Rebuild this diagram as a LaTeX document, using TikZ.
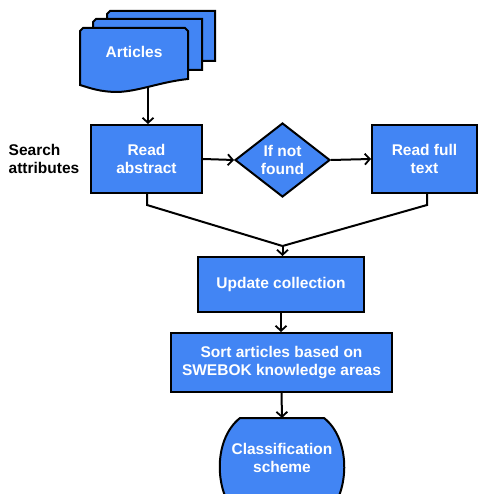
\documentclass[tikz,border=0pt]{standalone}
\usepackage{fontspec}
\setmainfont{Liberation Sans}
\usetikzlibrary{shapes.geometric,arrows.meta}
\definecolor{fblue}{HTML}{4285F4}
\tikzset{
  every node/.style={font=\fontsize{15.5pt}{18pt}\selectfont\bfseries},
  outline/.style={draw=black,line width=2pt,fill=fblue},
  stepbox/.style={outline,rectangle,text=white,align=center,inner sep=0pt},
  decide/.style={outline,diamond,text=white,align=center,inner sep=0pt},
  conn/.style={line width=2pt,-{Straight Barb[length=5pt,width=11pt,line width=1.8pt]}},
  plain/.style={line width=2pt}
}
\begin{document}
\begin{tikzpicture}[x=1pt,y=-1pt]
\useasboundingbox (0,0) rectangle (479,494);
% stacked documents
\draw[outline] (107,14) -- (110,11) -- (215,11) -- (215,61) -- (107,61) -- cycle;
\draw[outline] (93,22) -- (96,19) -- (202,19) -- (202,70) -- (93,70) -- cycle;
\draw[outline] (80,31) -- (83,28) -- (185,28) -- (188,31) -- (188,79)
  .. controls (160,82) and (140,91) .. (118,92)
  .. controls (100,92) and (90,88) .. (80,85) -- cycle;
\node[text=white] (art) at (134,52) {Articles};
\coordinate (artb) at (148,86);
% main nodes
\node[stepbox,minimum width=111pt,minimum height=68pt] (ra) at (146.5,159) {Read\\abstract};
\node[decide,minimum width=95pt,minimum height=74pt,aspect=1.28] (nf) at (282.5,160) {If not\\found};
\node[stepbox,minimum width=105pt,minimum height=68pt] (rf) at (424.5,159) {Read full\\text};
\node[align=left] (sa) at (44,159) {Search\\attributes};
\node[stepbox,minimum width=166pt,minimum height=55pt] (uc) at (281,284.5) {Update collection};
\node[stepbox,minimum width=221pt,minimum height=59pt] (so) at (281.5,362.5) {Sort articles based on\\SWEBOK knowledge areas};
% classification scheme shape
\draw[outline] (240,418) -- (324,418)
  .. controls (352,440) and (350,496) .. (324,518) -- (240,518)
  .. controls (214,496) and (212,440) .. (240,418) -- cycle;
\node[text=white,align=center] (cs) at (282,458) {Classification\\scheme};
\coordinate (csn) at (282,418);
% connectors
\draw[conn] (artb) -- (artb |- ra.north);
\draw[conn] (ra.east) -- (nf.west);
\draw[conn] (nf.east) -- (rf.west);
\coordinate (m) at (282.5,246);
\coordinate (la) at (147,205);
\coordinate (lb) at (427,205);
\draw[plain] (147,193) -- (la) -- (m);
\draw[plain] (427,193) -- (lb) -- (m);
\draw[conn] (m) -- (m |- uc.north);
\draw[conn] (uc.south) -- (uc.south |- so.north);
\draw[conn] (so.south) -- (csn);
\end{tikzpicture}
\end{document}
